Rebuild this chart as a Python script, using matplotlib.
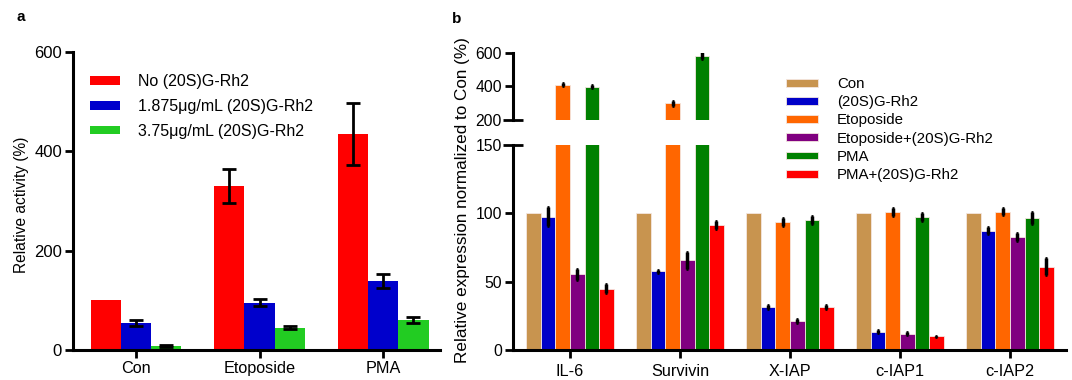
import numpy as np
import matplotlib
matplotlib.use('Agg')
import matplotlib.pyplot as plt

plt.rcParams['font.family'] = ['Liberation Sans', 'DejaVu Sans']

# panel a data
groups_a = ['Con', 'Etoposide', 'PMA']
labels_a = ['No (20S)G-Rh2', '1.875\u03bcg/mL (20S)G-Rh2', '3.75\u03bcg/mL (20S)G-Rh2']
no_rh2 = [100, 330, 435]
no_rh2_err = [0, 35, 63]
low_rh2 = [55, 95, 139]
low_rh2_err = [6, 7, 14]
high_rh2 = [8, 45, 60]
high_rh2_err = [1.5, 3, 6]
colors_a = ['#ff0000', '#0000cc', '#22cc22']

# panel b data
genes = ['IL-6', 'Survivin', 'X-IAP', 'c-IAP1', 'c-IAP2']
labels_b = ['Con', '(20S)G-Rh2', 'Etoposide', 'Etoposide+(20S)G-Rh2', 'PMA', 'PMA+(20S)G-Rh2']
con = [100, 100, 100, 100, 100]
con_err = [0, 0, 0, 0, 0]
rh2 = [97.5, 57.5, 31.6, 13.3, 87.4]
rh2_err = [7, 1.2, 1.5, 1, 2.5]
etop = [410, 300, 93.7, 101, 101.2]
etop_err = [8, 15, 3, 3, 2.5]
etop_rh2 = [55.5, 65.5, 21, 12, 82.5]
etop_rh2_err = [4, 6, 1.5, 1.2, 3]
pma = [398, 582, 95.4, 97.6, 96.4]
pma_err = [8, 20, 3, 3, 4.5]
pma_rh2 = [45, 91.5, 31.6, 10, 61]
pma_rh2_err = [3.5, 3, 1.5, 0.6, 6]
colors_b = ['#c8944f', '#0000c8', '#ff6600', '#800080', '#008000', '#ff0000']

W, H = 1072, 380
fig = plt.figure(figsize=(W/100, H/100), dpi=100)

def style(ax, bottom=True):
    for s in ['top', 'right']:
        ax.spines[s].set_visible(False)
    ax.spines['left'].set_linewidth(2.2)
    ax.spines['bottom'].set_linewidth(2.2)
    if not bottom:
        ax.spines['bottom'].set_visible(False)
    ax.tick_params(direction='out', length=6, width=2, pad=2)

def noerr(e):
    # zero error -> no error bar drawn (control bars)
    e = np.array(e, dtype=float)
    e[e == 0] = np.nan
    return e

# ---- panel a
axa = fig.add_axes([73/W, 1-350/H, 367/W, 298/H])
x = np.arange(len(groups_a))
wa = 0.245
ekw = dict(ecolor='black', elinewidth=2, capsize=5, capthick=2)
for i, (v, e) in enumerate([(no_rh2, no_rh2_err), (low_rh2, low_rh2_err), (high_rh2, high_rh2_err)]):
    axa.bar(x + (i-1)*wa, v, wa, yerr=noerr(e), color=colors_a[i], label=labels_a[i],
            error_kw=ekw, edgecolor='none')
axa.set_xlim(-0.51, 2.46)
axa.set_ylim(0, 600)
axa.set_yticks([0, 200, 400, 600])
axa.set_xticks(x)
axa.set_xticklabels(groups_a)
style(axa)
axa.tick_params(axis='y', labelsize=12)
axa.tick_params(axis='x', labelsize=11.7)
axa.legend(loc='upper left', bbox_to_anchor=(0.0455, 0.925), frameon=False, fontsize=11.5,
           handlelength=1.9, handleheight=0.45, handletextpad=1.1, labelspacing=0.6,
           borderpad=0, borderaxespad=0)
fig.text(22/W, 1-205/H, 'Relative activity (%)', rotation=90, ha='center', va='center', fontsize=11.2)
fig.text(21/W, 1-17/H, 'a', fontweight='bold', fontsize=11, ha='center', va='center')

# ---- panel b (broken y axis)
xb = np.arange(len(genes))
wb = 0.1325
series_b = [(con, con_err), (rh2, rh2_err), (etop, etop_err), (etop_rh2, etop_rh2_err),
            (pma, pma_err), (pma_rh2, pma_rh2_err)]
axlo = fig.add_axes([513/W, 1-350/H, 553/W, 205/H])
axhi = fig.add_axes([513/W, 1-120/H, 553/W, 67.3/H])
ekb = dict(ecolor='black', elinewidth=2.5, capsize=1, capthick=2)
bars = []
for ax in (axlo, axhi):
    for i, (v, e) in enumerate(series_b):
        b = ax.bar(xb + (i-2.5)*wb, v, wb, yerr=noerr(e), color=colors_b[i], label=labels_b[i],
                   error_kw=ekb, edgecolor='#f4e6e0', linewidth=0.6)
        if ax is axlo:
            bars.append(b)
    ax.set_xlim(-0.518, 4.509)
axlo.set_ylim(0, 150)
axlo.set_yticks([0, 50, 100, 150])
axhi.set_ylim(200, 600)
axhi.set_yticks([200, 400, 600])
axlo.set_xticks(xb)
axlo.set_xticklabels(genes)
style(axlo)
style(axhi, bottom=False)
axlo.tick_params(axis='x', labelsize=11.7, pad=4)
axlo.tick_params(axis='y', labelsize=11.3)
axhi.tick_params(axis='y', labelsize=11.3)
axhi.set_xticks([])
# break marks on the 150 and 200 ticks
for t in (axlo.yaxis.get_major_ticks()[-1], axhi.yaxis.get_major_ticks()[0]):
    t.tick1line.set_marker('_')
    t.tick1line.set_markersize(15)
fig.legend(handles=bars, loc='upper left', bbox_to_anchor=(786/W, 1-77/H), frameon=False,
           fontsize=10.8, handlelength=2.13, handleheight=0.43, handletextpad=1.27,
           labelspacing=0.28, borderpad=0, borderaxespad=0)
fig.text(462/W, 1-200/H, 'Relative expression normalized to Con (%)', rotation=90,
         ha='center', va='center', fontsize=12.3)
fig.text(457/W, 1-19/H, 'b', fontweight='bold', fontsize=11, ha='center', va='center')

fig.savefig('out.png', dpi=100)
